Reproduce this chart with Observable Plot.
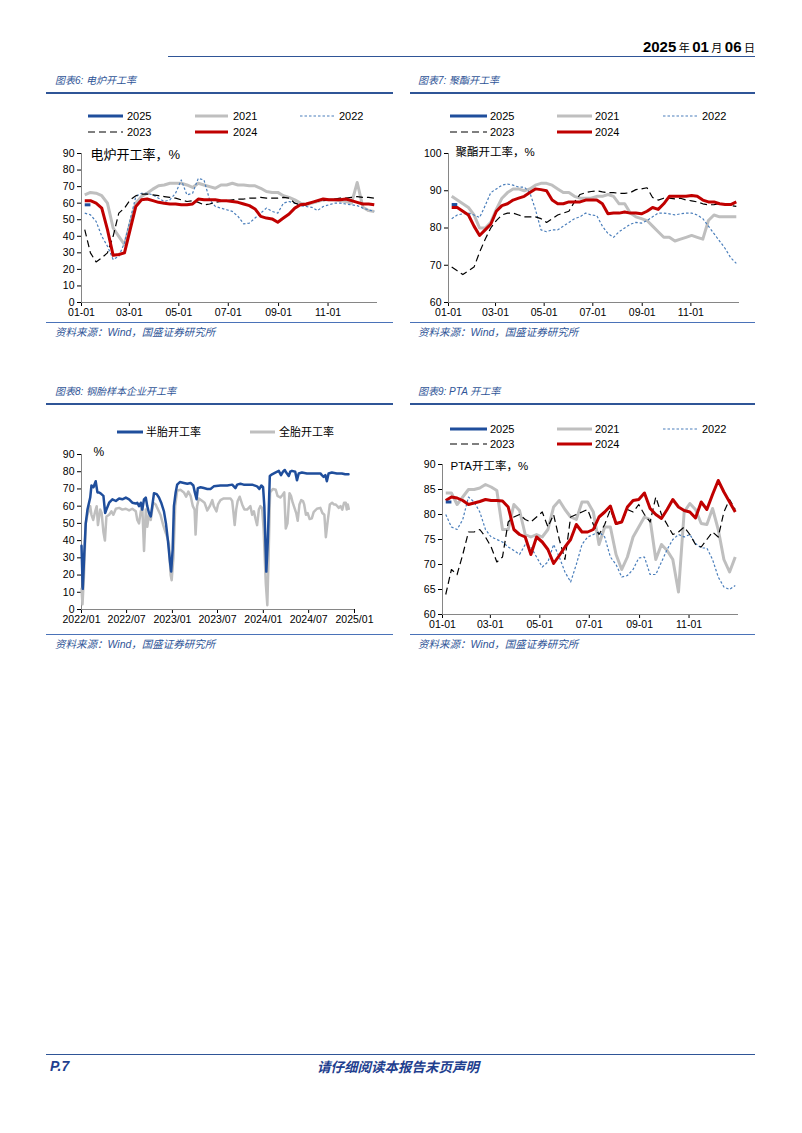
<!DOCTYPE html>
<html><head><meta charset="utf-8">
<script src="https://cdn.jsdelivr.net/npm/d3@7"></script>
<script src="https://cdn.jsdelivr.net/npm/@observablehq/plot@0.6"></script>
<style>
html,body{margin:0;padding:0;background:#fff;}
body{width:802px;height:1133px;position:relative;overflow:hidden;font-family:"Liberation Sans",Arial,"Noto Sans CJK SC",sans-serif;}
.abs{position:absolute;white-space:nowrap;}
.hl{position:absolute;height:0;}
.ttl{position:absolute;white-space:nowrap;font-style:italic;color:#2f5597;font-size:10px;font-family:"Liberation Sans",Arial,"Noto Sans CJK SC",sans-serif;line-height:12px;}
.src{position:absolute;white-space:nowrap;font-style:italic;color:#2f5597;font-size:10.5px;line-height:12px;font-family:"Liberation Sans",Arial,"Noto Sans CJK SC",sans-serif;}
.lg{position:absolute;white-space:nowrap;font-size:11px;line-height:12px;color:#000;font-family:"Liberation Sans",Arial,"Noto Sans CJK SC",sans-serif;}
.chart{position:absolute;}
</style>
</head><body>
<script>
// ---------------- data ----------------
const yearOrder = ["2021","2022","2023","2024","2025"];
const monthTickLabels = ["01-01","03-01","05-01","07-01","09-01","11-01"];

// 图表6 电炉开工率 (%), weekly
const eaf2021 = [65,66.5,66,64.5,60,45,40,35,48,60,64,66,68.5,70.5,71,72,72,72,71,69.5,72,71,70,69,71,71,72,71,71,70.5,70.5,69,67,66.5,66.5,64.5,63.5,62,60,59,60,61,62,62,62,61.5,61,60,72.5,57.5,55.5,55];
const eaf2022 = [54,53,49,40,34,26,28,36,50,64,66,66,65,63,61,62,66,74,65,66,75,74,62,58,57,56,55,52,47.5,48,51,54,57,55,54,60,61,60,58.5,58,57.5,55.5,58,59,60,60,59.5,59,58.5,57,56,55];
const eaf2023 = [44,30,24.5,27,30,40,54,57,62,64.5,65.5,65.5,65,64.5,64,63.5,63,62,61,61.5,60.5,59,59.5,60.5,61,61.5,62,62.5,62.5,63,63,63.5,63,63,63,63.5,63,60,59,59,60.5,61,61.5,62,62.5,63,63,63.5,64,63.5,63.5,63];
const eaf2024 = [61.5,61.5,60,57,44,28.5,29,30,44,58,62,62.5,61.5,60.5,60,59.5,59.5,59,59,59.5,62.5,62,62,62,61.5,61.5,61,60.5,59.5,58.5,56.5,52,51,50.5,48.5,51,53.5,57,59,59.5,60.5,61.5,62.5,62,62,62,62.5,61.5,60.5,59.5,59.5,59];
const eaf2025 = [59,59];

// 图表7 聚酯开工率 (%), weekly
const pol2021 = [88.5,87.5,86.5,85.5,83.5,80,80,81.5,85,88,89.5,90.5,90.5,90,90.5,91.5,92,92,91.5,90.5,89.5,89.5,88.5,88,88,88,88.5,88.5,89,88.5,86.5,86.5,84,83,82.5,82,80.5,79,77.5,77.5,76.5,77,77.5,78,77.5,77,82,83.5,83,83,83,83];
const pol2022 = [82.5,83.5,83.8,84,83.5,82.8,86,89.5,90.5,91.5,91.8,91.5,91,91,89.5,85,79.5,79,79.5,79.5,80.5,81.5,82.5,83,84,83.5,83.3,80.5,78.5,77.5,79,80,81,81.5,81.3,82,83,84,84,83.8,83.5,83.8,84,84,83.5,82.5,80.5,78.5,76.5,74.5,72,70.5];
const pol2023 = [69.5,68.5,67.5,68.5,69.5,73.5,77,80,82,83.5,84,84,83.5,83,83,83,82.5,81.5,82.5,83.5,84,84.5,87,89,89.5,89.8,90,89.7,89.5,89.5,89.3,89.3,89.5,90.3,90.5,90.8,88.2,87.5,88,88,87.8,88,87.5,87.3,87,86.5,86.2,86.3,86.5,86.3,86,85.8];
const pol2024 = [85.5,85.5,84.5,83.5,80.5,78,79.5,81,84.5,86,86.5,87.5,88,88.5,89.5,90.5,90.3,90,87.5,86.5,86.5,87,87,87,87.5,87.5,87.5,86.5,83.8,84,84,84.3,84,84,83.8,84.5,85.5,85,86.5,88.5,88.5,88.5,88.5,88.7,88.5,87.5,87,87,86.5,86.3,86.3,87];
const pol2025 = [86.3,86.3];

// 图表9 PTA开工率 (%), weekly
const pta2021 = [84.3,84.3,82,83.5,85,85,85.3,86,85.5,84.8,77,77,82,80.8,76,75.5,76,75.5,77,81.5,82.8,81,79.5,79,82.5,82.5,80.5,74,77.5,77.5,72,69,71.5,75.5,77.5,79.5,79,71,74,72.8,71,64.5,80.5,82.2,81,78.2,78,81.2,77,71,68.5,71.5];
const pta2022 = [80,77.5,77,79,83.5,82.5,80.5,77,75.5,75,74.5,73.5,72.8,72,74,73.5,71.5,69.5,70.5,74,71.5,68.5,66.5,70,74,75.5,76,76.5,75.5,71.5,70,67.5,67.8,69,71.3,71.5,68,68,70.5,73,75,76,75.5,76,74.2,73.3,73.3,71,67.5,65.5,65,65.8];
const pta2023 = [64,69,68,72,76.5,76.5,77,75.5,73.5,70.5,71.5,78.5,79.5,80,79,78.5,79.5,80.5,77.5,80,75,71,79.5,80,80.5,81,78,76,78,81,78,78.5,81,80.5,82,80,78.5,83.5,80,78,76,76.5,77.5,76,74,73.5,75,76.5,75.5,80.5,83,81];
const pta2024 = [82.8,83.5,83.3,82.8,82,82.3,82.6,83,82.8,82.8,82.7,81.5,77,76,75.5,72,75.5,74.5,73,70.2,71.8,73.5,75,78,76.5,76.5,77,79.5,80.5,81.7,78.2,78.5,81.5,82.8,83,84.3,81.2,80,79.2,81,83,81.5,80.8,80.5,79.3,82.5,81,84,86.8,84.5,82.5,80.5];
const pta2025 = [82.5,82.5];

// 图表8 钢胎样本企业开工率 (%)
const halfSteel = [["2022-01-01",37],["2022-01-06",12],["2022-01-12",32],["2022-01-18",50],["2022-01-25",58],["2022-02-05",65],["2022-02-10",72],["2022-02-18",71],["2022-02-27",74.5],["2022-03-06",68],["2022-03-13",68],["2022-03-22",67],["2022-03-30",66],["2022-04-06",56],["2022-04-11",58],["2022-04-22",62],["2022-05-05",64],["2022-05-19",63],["2022-06-01",64.5],["2022-06-14",64],["2022-06-28",65],["2022-07-11",64],["2022-07-24",62],["2022-08-07",61.5],["2022-08-13",62],["2022-08-20",60],["2022-08-27",62],["2022-09-02",58],["2022-09-09",64],["2022-09-16",65],["2022-09-22",60],["2022-09-29",56],["2022-10-06",54],["2022-10-12",60],["2022-10-19",67.5],["2022-10-30",67],["2022-11-08",65],["2022-11-17",62],["2022-11-28",57],["2022-12-06",50],["2022-12-14",40],["2022-12-22",28],["2022-12-27",22],["2023-01-02",35],["2023-01-07",60],["2023-01-14",68],["2023-01-20",72.5],["2023-01-31",74],["2023-02-16",73.5],["2023-03-02",73],["2023-03-15",73.5],["2023-03-26",72],["2023-04-01",68],["2023-04-08",64],["2023-04-13",70.5],["2023-04-24",71],["2023-05-07",70.5],["2023-05-21",70],["2023-06-03",70],["2023-06-16",71.5],["2023-07-13",72],["2023-08-09",72],["2023-08-29",72.5],["2023-09-11",70.5],["2023-09-18",72.5],["2023-10-01",73],["2023-10-14",72.5],["2023-10-28",72.5],["2023-11-17",72.5],["2023-12-07",71.5],["2023-12-16",70],["2023-12-24",72],["2023-12-31",71],["2024-01-05",60],["2024-01-13",22],["2024-01-19",40],["2024-01-27",77.5],["2024-02-05",78.5],["2024-02-18",79.5],["2024-03-03",80.5],["2024-03-12",78],["2024-03-20",80],["2024-03-27",81],["2024-04-02",79.5],["2024-04-12",77.5],["2024-04-18",80],["2024-04-25",80.5],["2024-05-08",80],["2024-05-15",75],["2024-05-22",79],["2024-06-04",79.5],["2024-06-24",79],["2024-07-21",79],["2024-08-17",79],["2024-08-23",78],["2024-08-30",77],["2024-09-06",78],["2024-09-12",74.5],["2024-09-19",79],["2024-10-02",79.5],["2024-10-22",79],["2024-11-11",79],["2024-11-25",78.5],["2024-12-08",78.5]];
const allSteel = [["2022-01-01",12],["2022-01-05",3],["2022-01-11",20],["2022-01-18",50],["2022-01-25",55],["2022-02-05",60],["2022-02-10",55],["2022-02-17",52],["2022-02-25",57],["2022-03-03",60],["2022-03-08",49],["2022-03-17",58],["2022-03-23",56],["2022-03-30",45],["2022-04-05",40],["2022-04-11",54],["2022-04-22",55],["2022-05-01",57],["2022-05-09",55],["2022-05-19",58.5],["2022-06-01",59],["2022-06-14",58],["2022-06-28",58.5],["2022-07-11",57.5],["2022-07-24",58.5],["2022-08-07",57],["2022-08-13",52],["2022-08-20",50],["2022-08-27",57],["2022-09-02",60],["2022-09-09",34],["2022-09-16",58],["2022-09-22",48],["2022-09-29",55],["2022-10-06",52],["2022-10-16",62],["2022-10-26",61],["2022-11-01",59],["2022-11-14",55],["2022-11-25",49],["2022-12-04",45],["2022-12-11",42],["2022-12-18",38],["2022-12-25",20],["2022-12-29",17],["2023-01-05",30],["2023-01-12",60],["2023-01-20",69],["2023-02-02",69.5],["2023-02-16",68],["2023-02-25",65.5],["2023-03-06",68.5],["2023-03-15",66],["2023-03-24",60],["2023-03-31",58],["2023-04-04",43.5],["2023-04-10",60],["2023-04-17",64.5],["2023-05-01",63],["2023-05-10",62],["2023-05-21",57.5],["2023-05-31",60],["2023-06-10",63.5],["2023-06-16",60],["2023-06-27",57],["2023-07-03",61],["2023-07-13",63.5],["2023-07-26",64.5],["2023-08-09",64.5],["2023-08-22",64.5],["2023-08-29",63],["2023-09-04",55],["2023-09-08",49],["2023-09-14",58],["2023-09-20",63],["2023-09-28",65.5],["2023-10-08",61],["2023-10-17",58],["2023-10-28",58],["2023-11-10",60],["2023-11-17",55],["2023-11-24",57],["2023-11-30",53],["2023-12-07",49],["2023-12-14",58],["2023-12-20",60],["2023-12-27",59],["2024-01-02",47],["2024-01-11",15],["2024-01-17",2.5],["2024-01-22",30],["2024-01-28",68],["2024-02-08",70],["2024-02-20",69.5],["2024-02-27",66],["2024-03-09",65],["2024-03-18",66.5],["2024-03-25",68],["2024-03-31",47],["2024-04-07",50],["2024-04-15",67.5],["2024-04-21",66],["2024-04-28",62],["2024-05-05",59],["2024-05-12",56],["2024-05-18",51.5],["2024-05-25",61],["2024-06-01",63.5],["2024-06-08",63],["2024-06-13",61],["2024-06-20",55],["2024-06-27",56],["2024-07-05",52.5],["2024-07-14",53],["2024-07-21",56.5],["2024-08-03",58.5],["2024-08-17",59],["2024-08-25",56],["2024-09-02",55],["2024-09-08",42],["2024-09-16",52],["2024-09-24",61],["2024-10-03",62],["2024-10-10",61],["2024-10-17",61],["2024-10-24",60],["2024-10-30",59],["2024-11-06",60],["2024-11-13",58],["2024-11-20",62],["2024-11-27",62],["2024-12-01",58],["2024-12-05",61],["2024-12-09",58.5]];

// ---------------- styles ----------------
const BLUE = "#2f5597";
const AXIS = "#868686";
const FONT = "'Liberation Sans', Arial, 'Noto Sans CJK SC', sans-serif";
const STYLES = {
  "2021": {stroke:"#bfbfbf", strokeWidth:3},
  "2022": {stroke:"#4a7ebb", strokeWidth:1.2, strokeDasharray:"2.5,2"},
  "2023": {stroke:"#000000", strokeWidth:1.2, strokeDasharray:"7,4"},
  "2024": {stroke:"#c00000", strokeWidth:3},
  "2025": {stroke:"#1f4e9c", strokeWidth:3}
};

// ---------------- helpers ----------------
function el(cls, css, html) {
  const d = document.createElement("div");
  d.className = cls;
  Object.assign(d.style, css);
  if (html != null) d.innerHTML = html;
  document.body.appendChild(d);
  return d;
}
function hline(x1, x2, y, w, color) {
  el("hl", {left: x1 + "px", top: (y - w / 2) + "px", width: (x2 - x1) + "px", borderTop: w + "px solid " + (color || BLUE)});
}
function legendItem(x1, x2, y, st, textX, text) {
  const w = x2 - x1;
  const svg = `<svg width="${w}" height="6" style="display:block"><line x1="0" y1="3" x2="${w}" y2="3" stroke="${st.stroke}" stroke-width="${st.strokeWidth}" ${st.strokeDasharray ? `stroke-dasharray="${st.strokeDasharray}"` : ""}/></svg>`;
  el("abs", {left: x1 + "px", top: (y - 3) + "px"}, svg);
  el("lg", {left: textX + "px", top: (y - 6.5) + "px"}, text);
}

const base = new Date(Date.UTC(2023, 0, 5));
const weekDates = d3.range(52).map(i => d3.utcDay.offset(base, 7 * i));
const xStart = new Date(Date.UTC(2023, 0, 1));
const xEnd = new Date(Date.UTC(2024, 0, 1));
const monthTicks = monthTickLabels.map(s => new Date(Date.UTC(2023, +s.slice(0, 2) - 1, +s.slice(3))));

function yearChart(o) {
  const marks = [
    Plot.ruleX([xStart], {stroke: AXIS, strokeWidth: 1}),
    Plot.ruleY([o.yDomain[0]], {stroke: AXIS, strokeWidth: 1})
  ];
  for (const yr of yearOrder) {
    const vals = o.series[yr];
    marks.push(Plot.line(vals.map((v, i) => ({date: weekDates[i], value: v})),
      {x: "date", y: "value", ...STYLES[yr], strokeLinejoin: "round", strokeLinecap: "butt"}));
  }
  marks.push(Plot.text([o.label], {text: d => d, frameAnchor: "top-left", dx: o.ldx, dy: o.ldy,
    fontSize: o.lsize, textAnchor: "start", fill: "#000"}));
  return Plot.plot({
    width: o.width, height: o.height,
    marginLeft: o.ml, marginRight: o.mr, marginTop: o.mt, marginBottom: o.mb,
    x: {type: "utc", domain: [xStart, xEnd], ticks: monthTicks, tickFormat: d3.utcFormat("%m-%d"), tickSize: 4, tickPadding: 2, label: null},
    y: {domain: o.yDomain, ticks: o.yTicks, tickSize: 4, tickPadding: 3, label: null},
    style: {fontSize: "10.5px", fontFamily: FONT, color: "#000", background: "transparent", overflow: "visible"},
    marks
  });
}
function place(node, left, top) {
  const d = el("chart", {left: left + "px", top: top + "px"});
  d.appendChild(node);
}

// ---------------- page frame ----------------
const numCss = "font-family:'Liberation Sans Narrow','Liberation Sans',Arial;font-weight:bold;font-size:15px";
const cjkCss = "font-family:'Noto Sans CJK SC';font-size:11px";
el("abs", {right: (802 - 755) + "px", top: "38px", color: "#000", lineHeight: "18px"},
  `<span style="${numCss}">2025</span><span style="${cjkCss}">&nbsp;年&nbsp;</span>` +
  `<span style="${numCss}">01</span><span style="${cjkCss}">&nbsp;月&nbsp;</span>` +
  `<span style="${numCss}">06</span><span style="${cjkCss}">&nbsp;日</span>`);
hline(168, 755, 57, 1.5);

// titles
el("ttl", {left: "55px", top: "75px"}, "图表6: 电炉开工率");
el("ttl", {left: "418px", top: "75px"}, "图表7: 聚酯开工率");
hline(46, 393, 93, 2);
hline(410, 755, 93, 2);
el("ttl", {left: "55px", top: "386px"}, "图表8: 钢胎样本企业开工率");
el("ttl", {left: "418px", top: "386px"}, "图表9: PTA 开工率");
hline(46, 393, 404, 2);
hline(410, 755, 404, 2);

// sources
const srcText = "资料来源：<b style='font-weight:normal;font-family:Liberation Sans,Arial'>Wind</b>，国盛证券研究所";
hline(46, 393, 323, 1.5, "#4a72b8");
hline(410, 755, 323, 1.5, "#4a72b8");
el("src", {left: "55px", top: "326px"}, srcText);
el("src", {left: "418px", top: "326px"}, srcText);
hline(46, 393, 635, 1.5, "#4a72b8");
hline(410, 755, 635, 1.5, "#4a72b8");
el("src", {left: "55px", top: "638px"}, srcText);
el("src", {left: "418px", top: "638px"}, srcText);

// footer
hline(46, 755, 1055, 1.5);
el("abs", {left: "50px", top: "1058px", fontSize: "14px", fontWeight: "bold", fontStyle: "italic", color: "#1f3f8f", lineHeight: "16px"}, "P.7");
el("abs", {left: "317px", top: "1058px", fontSize: "13.5px", fontWeight: "bold", fontStyle: "italic", color: "#1f3f8f", lineHeight: "16px", fontFamily: "'Noto Sans CJK SC'"}, "请仔细阅读本报告末页声明");

// ---------------- legends ----------------
function yearLegend(rowY1, rowY2, offsets) {
  const [a1, a2, at, b1, b2, bt, c1, c2, ct] = offsets;
  legendItem(a1, a2, rowY1, STYLES["2025"], at, "2025");
  legendItem(b1, b2, rowY1, STYLES["2021"], bt, "2021");
  legendItem(c1, c2, rowY1, STYLES["2022"], ct, "2022");
  legendItem(a1, a2, rowY2, STYLES["2023"], at, "2023");
  legendItem(b1, b2, rowY2, STYLES["2024"], bt, "2024");
}
yearLegend(116, 132, [88, 123, 127, 195, 228, 233, 300, 335, 339]);
yearLegend(116, 132, [450, 487, 490, 557, 592, 595, 663, 698, 702]);
yearLegend(429, 444, [450, 487, 490, 557, 592, 595, 663, 698, 702]);
legendItem(117, 143, 432, {stroke: "#1f4e9c", strokeWidth: 3}, 146, "半胎开工率");
legendItem(250, 275, 432, {stroke: "#bfbfbf", strokeWidth: 3}, 279, "全胎开工率");

// ---------------- charts ----------------
place(yearChart({
  series: {"2021": eaf2021, "2022": eaf2022, "2023": eaf2023, "2024": eaf2024, "2025": eaf2025},
  yDomain: [0, 90], yTicks: d3.range(0, 91, 10), label: "电炉开工率，%", lsize: 13, ldx: 9, ldy: -4,
  width: 340, height: 177, ml: 35, mr: 9, mt: 8, mb: 20
}), 46, 145);

place(yearChart({
  series: {"2021": pol2021, "2022": pol2022, "2023": pol2023, "2024": pol2024, "2025": pol2025},
  yDomain: [60, 100], yTicks: d3.range(60, 101, 10), label: "聚酯开工率，%", lsize: 11.5, ldx: 7, ldy: -6,
  width: 340, height: 177, ml: 38, mr: 11, mt: 8, mb: 20
}), 410, 145);

place(yearChart({
  series: {"2021": pta2021, "2022": pta2022, "2023": pta2023, "2024": pta2024, "2025": pta2025},
  yDomain: [60, 90], yTicks: d3.range(60, 91, 5), label: "PTA开工率，%", lsize: 11.5, ldx: 8, ldy: -3,
  width: 340, height: 179, ml: 32, mr: 12, mt: 9, mb: 20
}), 410, 455);

const parse = d3.utcParse("%Y-%m-%d");
const tireTicks = ["2022/01","2022/07","2023/01","2023/07","2024/01","2024/07","2025/01"].map(s => new Date(Date.UTC(+s.slice(0,4), +s.slice(5) - 1, 1)));
const tireChart = Plot.plot({
  width: 340, height: 184, marginLeft: 35, marginRight: 32, marginTop: 9, marginBottom: 20,
  x: {type: "utc", domain: [tireTicks[0], tireTicks[tireTicks.length - 1]], ticks: tireTicks, tickFormat: d3.utcFormat("%Y/%m"), tickSize: 4, tickPadding: 2, label: null},
  y: {domain: [0, 90], ticks: d3.range(0, 91, 10), tickSize: 4, tickPadding: 3, label: null},
  style: {fontSize: "10.5px", fontFamily: FONT, color: "#000", background: "transparent", overflow: "visible"},
  marks: [
    Plot.ruleX([tireTicks[0]], {stroke: AXIS}),
    Plot.ruleY([0], {stroke: AXIS}),
    Plot.line(allSteel, {x: d => parse(d[0]), y: d => d[1], stroke: "#bfbfbf", strokeWidth: 2.5, strokeLinejoin: "round"}),
    Plot.line(halfSteel, {x: d => parse(d[0]), y: d => d[1], stroke: "#1f4e9c", strokeWidth: 2.5, strokeLinejoin: "round"}),
    Plot.text(["%"], {text: d => d, frameAnchor: "top-left", dx: 12, dy: -7, fontSize: 12, textAnchor: "start", fill: "#000"})
  ]
});
place(tireChart, 46, 445);
</script>
</body></html>
